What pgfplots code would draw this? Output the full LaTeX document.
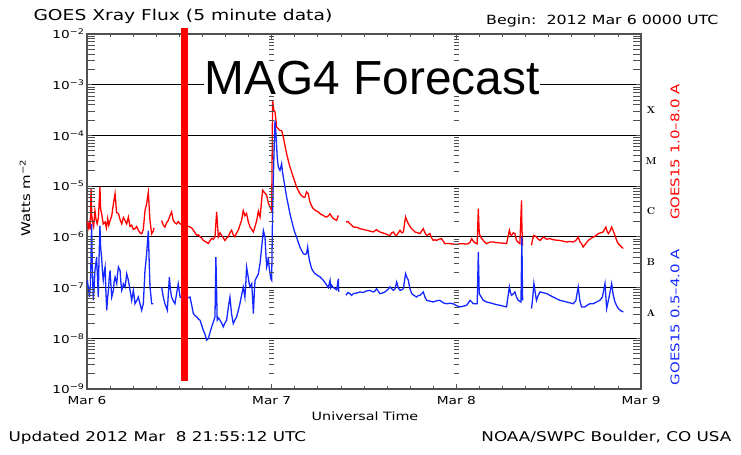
\documentclass[border=0pt]{standalone}
\usepackage{fontspec}
\usepackage{pgfplots}
\usepackage{pgfplotstable}
\pgfplotsset{compat=1.18}
\newfontfamily\hersh{DejaVu Sans}[FakeStretch=1.25]
\newfontfamily\arial{Liberation Sans}
\definecolor{goesred}{RGB}{255,0,0}
\definecolor{goesblue}{RGB}{20,40,255}
\definecolor{framegray}{RGB}{80,80,80}

% GOES15 long channel (1.0-8.0 A), day since Mar 6 00 UT, W m^-2
\pgfplotstableread{
day flux
0.002 2.1e-6
0.007 1.5e-6
0.012 1.8e-6
0.017 1.4e-6
0.022 8.9e-6
0.026 2.6e-6
0.030 2.0e-6
0.036 1.6e-6
0.043 3.3e-6
0.049 2.2e-6
0.055 1.8e-6
0.062 2.4e-6
0.070 9.6e-6
0.074 3.5e-6
0.079 2.9e-6
0.088 1.8e-6
0.098 1.96e-6
0.105 1.5e-6
0.112 2.3e-6
0.118 1.7e-6
0.125 2.1e-6
0.134 2.6e-6
0.143 4.5e-6
0.152 7.1e-6
0.160 3.0e-6
0.170 2.9e-6
0.179 2.2e-6
0.188 1.8e-6
0.197 2.4e-6
0.206 2.1e-6
0.215 1.8e-6
0.224 2.45e-6
0.233 1.6e-6
0.242 1.7e-6
0.251 1.4e-6
0.260 1.45e-6
0.269 1.6e-6
0.278 1.35e-6
0.287 1.2e-6
0.296 1.15e-6
0.305 1.4e-6
0.314 3.3e-6
0.323 4.5e-6
0.332 7.6e-6
0.341 2.1e-6
0.350 1.15e-6
0.359 1.3e-6
0.363 1.5e-6
0.380 nan
0.404 2.1e-6
0.413 1.7e-6
0.422 1.56e-6
0.431 1.9e-6
0.440 2.1e-6
0.449 2.6e-6
0.458 3.1e-6
0.467 2.1e-6
0.476 1.9e-6
0.485 1.8e-6
0.494 2.0e-6
0.504 1.8e-6
0.530 1.7e-6
0.558 1.56e-6
0.567 1.5e-6
0.576 1.35e-6
0.585 1.2e-6
0.594 1.07e-6
0.603 1.1e-6
0.612 1.0e-6
0.621 9.5e-7
0.630 8.5e-7
0.643 8.0e-7
0.657 7.4e-7
0.666 8.4e-7
0.675 9.3e-7
0.684 9.0e-7
0.693 1.0e-6
0.702 3.1e-6
0.711 1.0e-6
0.720 1.2e-6
0.729 1.07e-6
0.738 9.5e-7
0.747 8.5e-7
0.756 9.5e-7
0.765 1.0e-6
0.774 1.2e-6
0.783 1.35e-6
0.792 1.1e-6
0.801 1.0e-6
0.810 1.2e-6
0.819 1.35e-6
0.828 1.7e-6
0.837 2.1e-6
0.846 3.3e-6
0.855 2.6e-6
0.864 2.9e-6
0.873 2.0e-6
0.883 1.56e-6
0.892 1.4e-6
0.901 1.25e-6
0.910 1.6e-6
0.919 2.1e-6
0.928 3.2e-6
0.937 2.46e-6
0.951 8.3e-6
0.962 7.4e-6
0.973 6.6e-6
0.982 4.6e-6
0.991 3.9e-6
1.000 3.3e-6
1.005 4.9e-4
1.012 3.1e-4
1.018 2.9e-4
1.027 1.46e-4
1.036 1.35e-4
1.045 1.25e-4
1.054 1.25e-4
1.063 9.3e-5
1.072 6.3e-5
1.081 4.35e-5
1.090 3.2e-5
1.099 2.38e-5
1.108 1.9e-5
1.117 1.51e-5
1.126 1.2e-5
1.135 9.6e-6
1.144 8.2e-6
1.153 7.1e-6
1.162 6.5e-6
1.171 6.1e-6
1.180 6.0e-6
1.189 7.7e-6
1.198 7.1e-6
1.207 4.9e-6
1.216 4.1e-6
1.225 3.6e-6
1.238 3.3e-6
1.252 3.1e-6
1.266 2.8e-6
1.280 2.65e-6
1.289 2.5e-6
1.298 2.46e-6
1.307 2.6e-6
1.316 2.86e-6
1.325 2.5e-6
1.334 2.29e-6
1.343 2.2e-6
1.352 2.12e-6
1.361 2.65e-6
1.380 nan
1.402 1.96e-6
1.413 2.0e-6
1.424 1.82e-6
1.433 1.7e-6
1.442 1.56e-6
1.460 1.55e-6
1.478 1.45e-6
1.496 1.4e-6
1.514 1.35e-6
1.532 1.3e-6
1.550 1.25e-6
1.568 1.39e-6
1.577 1.3e-6
1.586 1.25e-6
1.600 1.2e-6
1.613 1.16e-6
1.627 1.1e-6
1.641 1.07e-6
1.650 1.2e-6
1.659 1.25e-6
1.668 1.1e-6
1.677 1.07e-6
1.686 1.2e-6
1.695 1.35e-6
1.704 1.2e-6
1.713 1.25e-6
1.725 2.46e-6
1.732 2.1e-6
1.740 1.82e-6
1.749 1.6e-6
1.758 1.45e-6
1.767 1.35e-6
1.776 1.25e-6
1.790 1.2e-6
1.803 1.16e-6
1.812 1.3e-6
1.821 1.45e-6
1.830 1.2e-6
1.839 1.07e-6
1.848 1.1e-6
1.857 1.16e-6
1.866 9.5e-7
1.875 8.5e-7
1.884 8.8e-7
1.893 8.5e-7
1.906 9.0e-7
1.920 9.2e-7
1.929 8.2e-7
1.938 7.35e-7
1.951 7.4e-7
1.965 7.35e-7
1.983 7.2e-7
2.001 7.1e-7
2.019 7.3e-7
2.038 7.35e-7
2.051 7.2e-7
2.065 7.35e-7
2.074 7.8e-7
2.083 9.2e-7
2.092 8.2e-7
2.101 7.6e-7
2.113 7.35e-7
2.119 3.6e-6
2.124 1.16e-6
2.135 9.5e-7
2.146 8.5e-7
2.155 7.8e-7
2.164 7.35e-7
2.182 7.9e-7
2.200 7.9e-7
2.218 7.7e-7
2.236 7.6e-7
2.254 7.5e-7
2.272 7.35e-7
2.287 1.35e-6
2.293 1.1e-6
2.299 1.07e-6
2.308 1.2e-6
2.317 1.16e-6
2.326 8.5e-7
2.335 7.8e-7
2.344 7.35e-7
2.353 5.25e-6
2.355 1.56e-6
2.359 6.8e-7
2.380 nan
2.407 6.8e-7
2.413 9.0e-7
2.420 1.07e-6
2.434 9.9e-7
2.443 9.0e-7
2.453 8.5e-7
2.462 9.2e-7
2.471 9.9e-7
2.489 9.0e-7
2.507 9.2e-7
2.525 8.8e-7
2.543 8.6e-7
2.561 8.5e-7
2.579 8.2e-7
2.597 7.9e-7
2.615 8.1e-7
2.633 7.9e-7
2.647 8.5e-7
2.660 9.9e-7
2.669 8.0e-7
2.678 7.35e-7
2.687 6.3e-7
2.700 7.3e-7
2.714 8.5e-7
2.727 9.2e-7
2.741 9.9e-7
2.755 1.05e-6
2.768 1.16e-6
2.782 1.2e-6
2.795 1.25e-6
2.810 1.56e-6
2.816 1.3e-6
2.823 1.16e-6
2.832 1.3e-6
2.841 1.56e-6
2.850 1.3e-6
2.859 1.07e-6
2.868 8.5e-7
2.877 7.35e-7
2.886 6.8e-7
2.895 6.3e-7
2.904 5.9e-7
}\longchan

% GOES15 short channel (0.5-4.0 A)
\pgfplotstableread{
day flux
0.002 1.39e-7
0.007 1.0e-7
0.013 6.5e-8
0.019 1.2e-7
0.025 1.8e-6
0.029 2.5e-7
0.034 5.6e-8
0.038 9.0e-8
0.043 2.18e-7
0.048 3.0e-7
0.052 4.0e-7
0.057 1.5e-7
0.061 6.5e-8
0.065 3.5e-7
0.070 1.67e-6
0.074 6.0e-7
0.079 4.0e-7
0.084 2.0e-7
0.088 1.39e-7
0.093 2.0e-7
0.098 2.54e-7
0.102 9.0e-8
0.107 3.57e-8
0.111 6.0e-8
0.116 8.8e-8
0.120 1.5e-7
0.125 2.18e-7
0.129 1.2e-7
0.134 6.5e-8
0.138 7.5e-8
0.143 8.8e-8
0.147 1.3e-7
0.152 1.61e-7
0.156 1.4e-7
0.161 1.19e-7
0.165 1.8e-7
0.170 2.54e-7
0.175 2.3e-7
0.179 2.18e-7
0.184 1.2e-7
0.188 8.8e-8
0.193 1.0e-7
0.197 1.19e-7
0.202 1.1e-7
0.206 1.03e-7
0.211 1.4e-7
0.215 1.87e-7
0.220 1.6e-7
0.224 1.39e-7
0.229 1.1e-7
0.233 8.8e-8
0.238 7.0e-8
0.242 5.6e-8
0.247 7.0e-8
0.251 8.8e-8
0.256 6.5e-8
0.260 4.8e-8
0.269 5.5e-8
0.278 6.5e-8
0.287 4.8e-8
0.296 3.57e-8
0.305 4.8e-8
0.314 2.18e-7
0.318 3.0e-7
0.323 4.6e-7
0.332 1.33e-6
0.337 3.0e-7
0.341 1.03e-7
0.346 7.0e-8
0.350 4.8e-8
0.359 4.8e-8
0.380 nan
0.404 1.03e-7
0.413 6.5e-8
0.422 4.8e-8
0.435 3.57e-8
0.446 1.61e-7
0.452 9.0e-8
0.458 6.5e-8
0.467 5.5e-8
0.476 4.8e-8
0.485 7.5e-8
0.494 1.19e-7
0.504 6.5e-8
0.530 6.0e-8
0.558 6.5e-8
0.567 4.5e-8
0.576 3.07e-8
0.585 2.8e-8
0.594 2.64e-8
0.603 2.4e-8
0.612 2.27e-8
0.621 1.8e-8
0.630 1.44e-8
0.639 1.2e-8
0.648 9.2e-9
0.657 9.9e-9
0.666 1.3e-8
0.675 1.68e-8
0.684 2.1e-8
0.693 2.64e-8
0.698 4.0e-7
0.705 2.27e-8
0.713 2.5e-8
0.720 2.27e-8
0.729 2.0e-8
0.738 1.68e-8
0.747 2.0e-8
0.756 2.27e-8
0.765 4.0e-8
0.774 6.5e-8
0.783 3.0e-8
0.792 1.95e-8
0.801 2.3e-8
0.810 2.64e-8
0.819 3.5e-8
0.828 4.8e-8
0.837 7.0e-8
0.846 1.03e-7
0.851 8.0e-8
0.855 6.5e-8
0.860 1.2e-7
0.864 2.54e-7
0.869 2.0e-7
0.873 1.61e-7
0.878 1.2e-7
0.883 1.03e-7
0.887 1.1e-7
0.892 1.19e-7
0.897 6.0e-8
0.901 3.07e-8
0.906 8.0e-8
0.910 1.39e-7
0.919 1.6e-7
0.928 1.87e-7
0.937 3.0e-7
0.946 6.3e-7
0.955 1.33e-6
0.964 9.8e-7
0.968 5.0e-7
0.973 2.55e-7
0.978 3.0e-7
0.982 4.0e-7
0.986 2.6e-7
0.991 1.88e-7
0.995 1.5e-7
1.000 1.39e-7
1.005 3.33e-6
1.012 3.74e-5
1.018 1.97e-4
1.023 1.08e-4
1.030 3.74e-5
1.036 2.38e-5
1.041 2.2e-5
1.045 2.05e-5
1.050 2.4e-5
1.054 2.77e-5
1.058 2.0e-5
1.063 1.51e-5
1.072 9.6e-6
1.081 6.1e-6
1.090 4.2e-6
1.099 2.86e-6
1.108 2.1e-6
1.117 1.56e-6
1.126 1.2e-6
1.135 9.9e-7
1.144 7.8e-7
1.153 6.3e-7
1.162 5.4e-7
1.171 4.67e-7
1.180 4.5e-7
1.189 4.67e-7
1.195 6.3e-7
1.204 3.45e-7
1.210 2.9e-7
1.216 2.37e-7
1.225 2.1e-7
1.234 1.88e-7
1.248 1.75e-7
1.262 1.62e-7
1.271 1.5e-7
1.280 1.39e-7
1.289 1.25e-7
1.298 1.11e-7
1.307 1.0e-7
1.316 1.39e-7
1.320 1.0e-7
1.325 1.11e-7
1.334 1.0e-7
1.343 9.5e-8
1.352 9.0e-8
1.361 1.5e-7
1.363 8.2e-8
1.380 nan
1.402 7.05e-8
1.413 8.0e-8
1.424 7.6e-8
1.433 7.0e-8
1.442 7.6e-8
1.460 7.8e-8
1.478 8.2e-8
1.496 8.0e-8
1.514 8.6e-8
1.532 8.8e-8
1.550 8.2e-8
1.559 8.5e-8
1.568 9.5e-8
1.577 8.5e-8
1.586 7.6e-8
1.600 7.8e-8
1.613 8.2e-8
1.627 9.0e-8
1.641 1.03e-7
1.650 9.5e-8
1.659 8.85e-8
1.668 9.5e-8
1.677 1.29e-7
1.686 9.8e-8
1.695 8.85e-8
1.704 9.0e-8
1.713 9.5e-8
1.725 1.88e-7
1.732 1.6e-7
1.740 1.39e-7
1.749 9.5e-8
1.758 7.6e-8
1.771 7.0e-8
1.785 6.5e-8
1.794 7.0e-8
1.803 7.0e-8
1.812 7.6e-8
1.821 8.2e-8
1.830 6.5e-8
1.839 5.6e-8
1.857 5.4e-8
1.875 5.2e-8
1.893 5.5e-8
1.911 5.6e-8
1.929 5.0e-8
1.947 4.8e-8
1.965 4.9e-8
1.983 4.8e-8
2.001 4.4e-8
2.019 4.15e-8
2.038 4.3e-8
2.056 4.48e-8
2.065 5.0e-8
2.074 5.6e-8
2.083 5.2e-8
2.092 4.8e-8
2.113 4.8e-8
2.119 5.03e-7
2.124 7.6e-8
2.135 6.5e-8
2.146 5.6e-8
2.155 5.4e-8
2.164 5.2e-8
2.182 5.0e-8
2.200 4.8e-8
2.218 4.6e-8
2.236 4.48e-8
2.254 4.3e-8
2.272 4.15e-8
2.287 1.03e-7
2.293 8.0e-8
2.299 7.05e-8
2.308 7.5e-8
2.317 8.2e-8
2.326 6.5e-8
2.335 5.6e-8
2.350 5.2e-8
2.355 9.9e-7
2.357 1.88e-7
2.359 5.6e-8
2.380 nan
2.407 3.85e-8
2.413 6.0e-8
2.420 1.2e-7
2.427 8.0e-8
2.434 5.6e-8
2.443 7.0e-8
2.453 8.2e-8
2.471 7.9e-8
2.489 7.6e-8
2.507 7.0e-8
2.525 6.5e-8
2.543 6.0e-8
2.561 5.6e-8
2.579 5.4e-8
2.597 5.2e-8
2.615 5.0e-8
2.633 4.8e-8
2.647 5.5e-8
2.660 1.03e-7
2.669 5.5e-8
2.678 4.15e-8
2.696 4.15e-8
2.709 4.5e-8
2.723 4.8e-8
2.741 4.8e-8
2.759 5.2e-8
2.777 5.6e-8
2.791 6.5e-8
2.805 1.2e-7
2.814 3.85e-8
2.827 6.5e-8
2.841 1.2e-7
2.850 7.0e-8
2.859 5.2e-8
2.868 4.4e-8
2.877 3.85e-8
2.890 3.5e-8
2.904 3.31e-8
}\shortchan

\begin{document}
\begin{tikzpicture}[x=1bp,y=1bp]
\useasboundingbox (0,0) rectangle (741,455);
\begin{axis}[
    at={(87bp,66bp)}, anchor=south west,
    scale only axis, width=554bp, height=355bp,
    xmin=0, xmax=3,
    ymode=log, log basis y=10,
    ymin=1e-9, ymax=1e-2,
    xtick={0,1,2,3},
    xticklabels={Mar 6,Mar 7,Mar 8,Mar 9},
    minor x tick num=7,
    ytick={1e-9,1e-8,1e-7,1e-6,1e-5,1e-4,1e-3,1e-2},
    yticklabels={10\textsuperscript{−9},10\textsuperscript{−8},10\textsuperscript{−7},10\textsuperscript{−6},10\textsuperscript{−5},10\textsuperscript{−4},10\textsuperscript{−3},10\textsuperscript{−2}},
    ticklabel style={font=\hersh\fontsize{11}{13}\selectfont, text=black},
    xticklabel style={yshift=-4bp},
    yticklabel style={xshift=1bp},
    tick align=inside,
    major tick length=5bp, minor tick length=3.5bp,
    tick style={framegray, line width=0.8bp},
    axis line style={framegray, line width=1.3bp},
    ymajorgrids,
    major grid style={black, line width=0.9bp},
    unbounded coords=jump,
    clip=false,
]
\addplot[goesred, line width=1.3bp] table[x=day, y=flux] {\longchan};
\addplot[goesblue, line width=1.3bp] table[x=day, y=flux] {\shortchan};
% forecast marker
\addplot[goesred, line width=7.5bp] coordinates {(0.529,1.43e-9) (0.529,1.3e-2)};
\end{axis}

% log minor ticks on the left and right frame, pointing inward
\foreach \e in {-9,...,-3}
  \foreach \m in {2,...,9}
    \draw[framegray, line width=0.9bp]
      ({87},{66+50.714*(log10(\m)+\e+9)}) -- ++(8,0);
\foreach \e in {-9,...,-3}
  \foreach \m in {2,...,9}
    \draw[framegray, line width=0.9bp]
      ({641},{66+50.714*(log10(\m)+\e+9)}) -- ++(-8,0);
% the same ticks along the day boundaries
\foreach \d in {1,2}
  \foreach \e in {-9,...,-3}
    \foreach \m in {2,...,9}
      \draw[framegray, line width=0.7bp]
        ({87+184.667*\d-2.8},{66+50.714*(log10(\m)+\e+9)}) -- ++(5.6,0);

\node[fill=white, inner sep=1bp, anchor=base, font=\arial\fontsize{48}{50}\selectfont]
  at (372,360) {MAG4 Forecast};

\node[anchor=base west, font=\hersh\fontsize{15}{17}\selectfont] at (30,434)
  {GOES Xray Flux (5 minute data)};
\node[anchor=base east, font=\hersh\fontsize{12.7}{14}\selectfont] at (722,430)
  {Begin:\ \ 2012 Mar 6 0000 UTC};
\node[rotate=90, font=\hersh\fontsize{12}{14}\selectfont] at (25,257)
  {Watts m\textsuperscript{−2}};
\node[font=\hersh\fontsize{11.5}{13}\selectfont] at (365,39) {Universal Time};
\node[anchor=base west, font=\hersh\fontsize{13.5}{15}\selectfont] at (5,13)
  {Updated 2012 Mar\ \ 8 21:55:12 UTC};
\node[anchor=base east, font=\hersh\fontsize{13.5}{15}\selectfont] at (735,13)
  {NOAA/SWPC Boulder, CO USA};

\foreach \lab/\yy in {A/142.1, B/192.8, C/243.5, M/294.2, X/344.9}
  \node[font=\bfseries\fontsize{10}{11}\selectfont] at (651,\yy) {\lab};

\node[rotate=90, text=goesred, font=\hersh\fontsize{12}{14}\selectfont] at (675,303)
  {GOES15 1.0–8.0 A};
\node[rotate=90, text=goesblue, font=\hersh\fontsize{12}{14}\selectfont] at (675,138)
  {GOES15 0.5–4.0 A};
\end{tikzpicture}
\end{document}
